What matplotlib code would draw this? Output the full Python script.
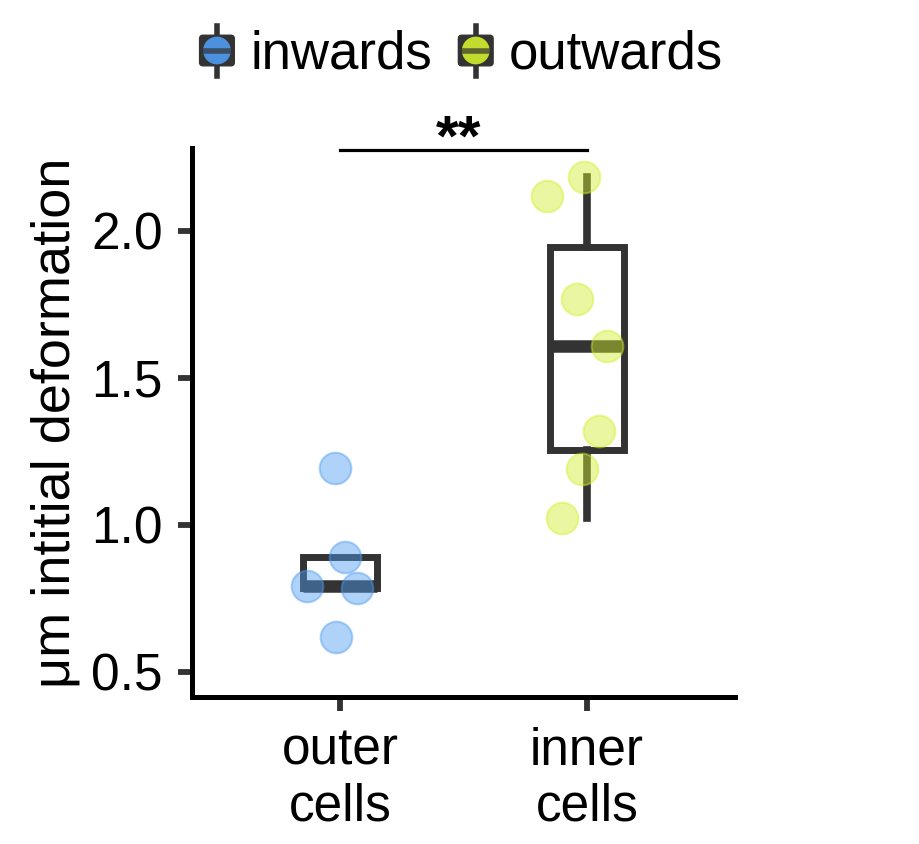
import numpy as np
import matplotlib.pyplot as plt
from matplotlib.legend_handler import HandlerBase
from matplotlib.lines import Line2D
from matplotlib.patches import FancyBboxPatch, Ellipse, Patch

plt.rcParams['font.family'] = ['Liberation Sans', 'DejaVu Sans']

# data
groups = ["outer\ncells", "inner\ncells"]
series = ["inwards", "outwards"]
colors = ["#4f9cf2", "#d4ef2c"]
outer_vals = [1.194, 0.891, 0.792, 0.786, 0.619]
outer_x = [0.98, 1.02, 0.865, 1.07, 0.985]
inner_vals = [2.184, 2.119, 1.769, 1.609, 1.320, 1.190, 1.024]
inner_x = [1.99, 1.84, 1.96, 2.08, 2.05, 1.98, 1.90]
sig_label = "**"

dark = "#333333"
fs = 37

fig = plt.figure(figsize=(9.19, 8.44), dpi=100)
ax = fig.add_axes([0.2089, 0.1742, 0.5909, 0.6504])

bp = ax.boxplot([outer_vals, inner_vals], positions=[1, 2], widths=0.30,
                showfliers=False, showcaps=False, patch_artist=True, whis=1.5,
                boxprops=dict(facecolor="none", edgecolor=dark, linewidth=5),
                whiskerprops=dict(color=dark, linewidth=5.5),
                medianprops=dict(color=dark, linewidth=9, solid_capstyle="butt"),
                zorder=2)

for xs, vs, c in [(outer_x, outer_vals, colors[0]), (inner_x, inner_vals, colors[1])]:
  ax.scatter(xs, vs, s=520, color=c, alpha=0.45, edgecolor=c, linewidth=1.5, zorder=3)

# significance bar
ax.plot([1, 2], [2.276, 2.276], color="black", lw=2.3, clip_on=False)
ax.text(1.48, 2.255, sig_label, ha="center", va="baseline", fontsize=42, fontweight="bold")

ax.set_xlim(0.4, 2.6)
ax.set_ylim(0.415, 2.282)
ax.set_xticks([1, 2])
ax.set_xticklabels(groups, fontsize=fs, linespacing=1.2)
ax.set_yticks([0.5, 1.0, 1.5, 2.0])
ax.set_yticklabels(["0.5", "1.0", "1.5", "2.0"], fontsize=fs)
ax.set_ylabel("μm intitial deformation", fontsize=39, labelpad=8)
for s in ["top", "right"]:
  ax.spines[s].set_visible(False)
for s in ["left", "bottom"]:
  ax.spines[s].set_linewidth(3.6)
ax.tick_params(length=10, width=4.2, color=dark, pad=11, labelcolor="black")
ax.tick_params(axis="x", pad=11)


class BoxKey(HandlerBase):
  def create_artists(self, legend, orig_handle, xdescent, ydescent, width, height, fontsize, trans):
    c = orig_handle.get_facecolor()
    cx = width / 2 - xdescent
    cy = height / 2 - ydescent
    w = 25
    h = 22
    arts = []
    arts.append(Line2D([cx, cx], [cy - 18, cy + 18], color=dark, lw=4))
    arts.append(FancyBboxPatch((cx - w / 2, cy - h / 2), w, h,
                               boxstyle="round,pad=0,rounding_size=2.5", fc=dark, ec=dark))
    arts.append(Ellipse((cx, cy), 20, 20, fc=c, ec="none", alpha=0.9))
    arts.append(Line2D([cx - 10, cx + 10], [cy, cy], color=dark, lw=4, alpha=0.7))
    for a in arts:
      a.set_transform(trans)
    return arts


handles = [Patch(facecolor=c) for c in colors]
fig.legend(handles, series, loc="center", bbox_to_anchor=(0.502, 0.935), ncol=2,
           frameon=False, fontsize=38, handler_map={Patch: BoxKey()},
           handlelength=0.66, handleheight=0.8, handletextpad=0.3, columnspacing=0.5)

fig.savefig("out.png", dpi=100)
